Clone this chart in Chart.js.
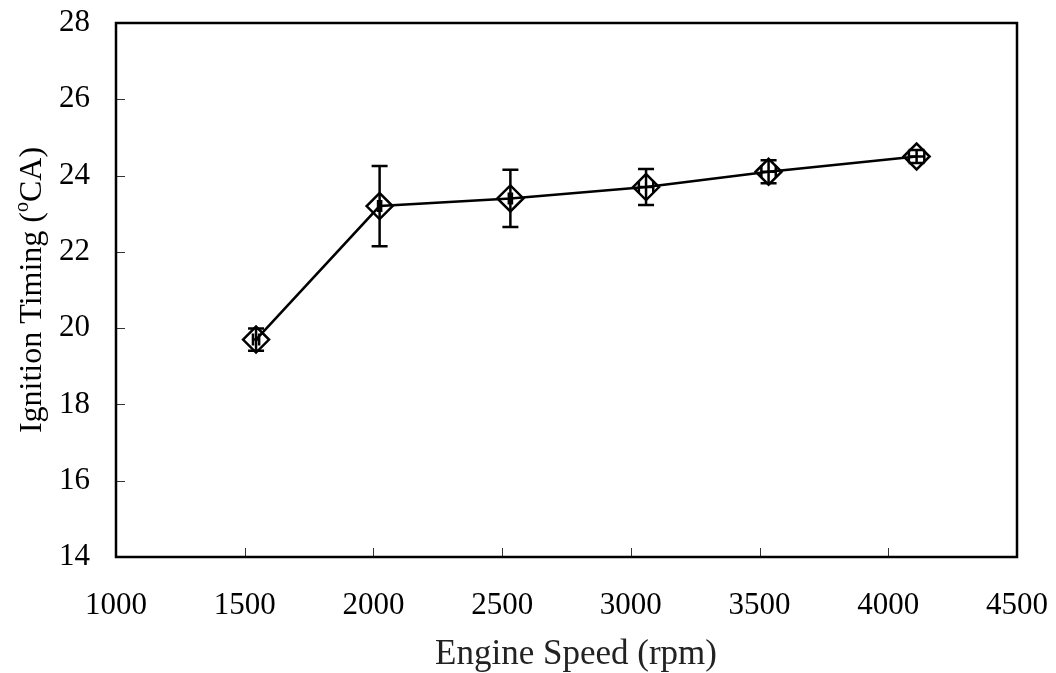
<!DOCTYPE html>
<html>
<head>
<meta charset="utf-8">
<script src="https://cdn.jsdelivr.net/npm/chart.js@4.4.0/dist/chart.umd.min.js"></script>
<style>
  html, body { margin: 0; padding: 0; background: #fff; }
</style>
</head>
<body>
<canvas id="chart" width="1056" height="673"></canvas>
<script>
  // data
  const engineSpeed = [1544, 2024, 2532, 3059, 3535, 4110];
  const ignitionTiming = [19.7, 23.2, 23.4, 23.7, 24.1, 24.5];
  const timingError = [0.29, 1.05, 0.75, 0.47, 0.30, 0.17];
  const speedError = [12, 6, 6, 28, 28, 30];

  const xRange = [1000, 4500];
  const xStep = 500;
  const yRange = [14, 28];
  const yStep = 2;

  const xTitle = 'Engine Speed (rpm)';
  const yTitle = ['Ignition Timing (', 'o', 'CA)']; // middle piece is superscript

  const serif = '"Liberation Serif", "Times New Roman", serif';

  // error bars, both directions, drawn over the markers
  const errorBars = {
    id: 'errorBars',
    afterDatasetsDraw(chart) {
      const { ctx, scales: { x, y } } = chart;
      ctx.save();
      ctx.strokeStyle = '#000';
      ctx.lineWidth = 2.5;
      engineSpeed.forEach((s, i) => {
        const px = x.getPixelForValue(s);
        const top = y.getPixelForValue(ignitionTiming[i] + timingError[i]);
        const bot = y.getPixelForValue(ignitionTiming[i] - timingError[i]);
        const py = y.getPixelForValue(ignitionTiming[i]);
        const l = x.getPixelForValue(s - speedError[i]);
        const r = x.getPixelForValue(s + speedError[i]);
        ctx.beginPath();
        ctx.moveTo(px, top); ctx.lineTo(px, bot);
        ctx.moveTo(px - 8, top); ctx.lineTo(px + 8, top);
        ctx.moveTo(px - 8, bot); ctx.lineTo(px + 8, bot);
        ctx.moveTo(l, py); ctx.lineTo(r, py);
        ctx.moveTo(l, py - 6); ctx.lineTo(l, py + 6);
        ctx.moveTo(r, py - 6); ctx.lineTo(r, py + 6);
        ctx.stroke();
      });
      ctx.restore();
    }
  };

  // box round the plot and short inward ticks on left and bottom
  const frame = {
    id: 'frame',
    afterDraw(chart) {
      const { ctx, chartArea: a, scales: { x, y } } = chart;
      ctx.save();
      ctx.strokeStyle = '#333';
      ctx.lineWidth = 1;
      ctx.beginPath();
      x.ticks.forEach(t => {
        const px = Math.round(x.getPixelForValue(t.value)) + 0.5;
        ctx.moveTo(px, a.bottom); ctx.lineTo(px, a.bottom - 9);
      });
      y.ticks.forEach(t => {
        const py = Math.round(y.getPixelForValue(t.value)) + 0.5;
        ctx.moveTo(a.left, py); ctx.lineTo(a.left + 9, py);
      });
      ctx.stroke();
      ctx.strokeStyle = '#000';
      ctx.lineWidth = 2.5;
      ctx.strokeRect(a.left, a.top, a.right - a.left, a.bottom - a.top);

      // axis titles
      ctx.fillStyle = '#222';
      ctx.font = '35px ' + serif;
      ctx.textAlign = 'center';
      ctx.textBaseline = 'middle';
      ctx.fillText(xTitle, 576, 655);

      ctx.fillStyle = '#000';
      ctx.translate(30, (a.top + a.bottom) / 2);
      ctx.rotate(-Math.PI / 2);
      const big = '32px ' + serif, small = '20px ' + serif;
      ctx.font = big;
      const w0 = ctx.measureText(yTitle[0]).width;
      const w2 = ctx.measureText(yTitle[2]).width;
      ctx.font = small;
      const w1 = ctx.measureText(yTitle[1]).width;
      let cx = -(w0 + w1 + w2) / 2;
      ctx.textAlign = 'left';
      ctx.textBaseline = 'alphabetic';
      ctx.font = big;
      ctx.fillText(yTitle[0], cx, 11); cx += w0;
      ctx.font = small;
      ctx.fillText(yTitle[1], cx, -2); cx += w1;
      ctx.font = big;
      ctx.fillText(yTitle[2], cx, 11);
      ctx.restore();
    }
  };

  // fixed box sizes so the plot sits where the original has it
  const noOverflow = s => {
    s.paddingTop = s.paddingBottom = s.paddingLeft = s.paddingRight = 0;
  };

  new Chart(document.getElementById('chart'), {
    type: 'line',
    data: {
      datasets: [{
        data: engineSpeed.map((s, i) => ({ x: s, y: ignitionTiming[i] })),
        borderColor: '#000',
        borderWidth: 2.5,
        tension: 0,
        pointStyle: 'rectRot',
        pointRadius: 13,
        pointBorderWidth: 2.5,
        pointBorderColor: '#000',
        pointBackgroundColor: 'rgba(0,0,0,0)',
      }]
    },
    options: {
      responsive: false,
      animation: false,
      layout: { padding: { left: 0, top: 23, right: 39, bottom: 0 } },
      plugins: { legend: { display: false }, tooltip: { enabled: false } },
      scales: {
        x: {
          type: 'linear',
          min: xRange[0], max: xRange[1],
          ticks: {
            stepSize: xStep, padding: 30, color: '#000',
            font: { family: serif, size: 31 },
            callback: v => String(v)
          },
          grid: { display: false, drawTicks: false },
          border: { display: false },
          afterFit(s) { s.height = 116; noOverflow(s); }
        },
        y: {
          min: yRange[0], max: yRange[1],
          ticks: {
            stepSize: yStep, padding: 26, color: '#000',
            font: { family: serif, size: 31 },
            callback: v => String(v)
          },
          grid: { display: false, drawTicks: false },
          border: { display: false },
          afterFit(s) { s.width = 116; noOverflow(s); }
        }
      }
    },
    plugins: [errorBars, frame]
  });
</script>
</body>
</html>
